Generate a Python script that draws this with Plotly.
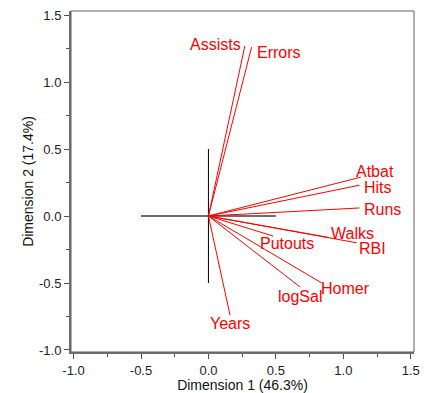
import plotly.graph_objects as go

# ---- data ----
variables = ["Assists", "Errors", "Atbat", "Hits", "Runs", "Walks", "RBI",
             "Putouts", "Homer", "logSal", "Years"]
dim1 = [0.27, 0.32, 1.13, 1.12, 1.12, 0.89, 1.10, 0.48, 0.84, 0.68, 0.16]
dim2 = [1.27, 1.26, 0.29, 0.23, 0.06, -0.16, -0.20, -0.15, -0.50, -0.53, -0.74]

tick_vals = [-1.0, -0.5, 0.0, 0.5, 1.0, 1.5]
tick_text = ["-1.0", "-0.5", "0.0", "0.5", "1.0", "1.5"]

x_title = "Dimension 1 (46.3%)"
y_title = "Dimension 2 (17.4%)"

# ---- label placement (style) ----
label_style = {
    "Assists": ("right", -2, 1),
    "Errors": ("left", 3, -5),
    "Atbat": ("left", -7, 6),
    "Hits": ("left", 2, -2),
    "Runs": ("left", 2, -2),
    "Walks": ("left", 1, 4),
    "RBI": ("left", 0, -6),
    "Putouts": ("left", -15, -7),
    "Homer": ("left", -3, -5),
    "logSal": ("center", 0, -9),
    "Years": ("center", 0, -8),
}

RED = "#ff0000"
fig = go.Figure()

# reference cross
fig.add_trace(go.Scatter(x=[-0.5, 0.5], y=[0, 0], mode="lines",
                         line=dict(color="#6e6e6e", width=2),
                         hoverinfo="skip", showlegend=False))
fig.add_trace(go.Scatter(x=[0, 0], y=[-0.5, 0.5], mode="lines",
                         line=dict(color="#000000", width=1),
                         hoverinfo="skip", showlegend=False))

# vectors
for name, x, y in zip(variables, dim1, dim2):
    fig.add_trace(go.Scatter(x=[0, x], y=[0, y], mode="lines",
                             line=dict(color=RED, width=1),
                             name=name, showlegend=False))
    anc, xs, ys = label_style[name]
    fig.add_annotation(x=x, y=y, text=name, showarrow=False,
                       xanchor=anc, yanchor="middle", xshift=xs, yshift=ys,
                       font=dict(family="Liberation Sans, Arial", size=16, color=RED))

axis_common = dict(
    showline=True, linecolor="#707070", linewidth=2,
    ticks="outside", ticklen=5, tickwidth=1, tickcolor="#505050",
    tickvals=tick_vals, ticktext=tick_text,
    minor=dict(ticks="outside", ticklen=3, tickwidth=1, tickcolor="#505050",
               dtick=0.25, tick0=0),
    showgrid=False, zeroline=False,
    tickfont=dict(family="Liberation Sans, Arial", size=13, color="#222222"),
    title_font=dict(family="Liberation Sans, Arial", size=14, color="#111111"),
)

fig.update_xaxes(range=[-1.019, 1.524], title_text=x_title, title_standoff=1,
                 **axis_common)
fig.update_yaxes(range=[-1.015, 1.53], title_text=y_title, title_standoff=2,
                 **axis_common)

# thin box on top/right
fig.add_shape(type="rect", xref="paper", yref="paper", x0=0, y0=0, x1=1, y1=1,
              line=dict(color="#606060", width=1), layer="above")

fig.update_layout(
    width=424, height=393,
    margin=dict(l=71, r=10, t=11, b=41, autoexpand=False),
    paper_bgcolor="white", plot_bgcolor="white",
    showlegend=False,
)

fig.write_html("out.html")
